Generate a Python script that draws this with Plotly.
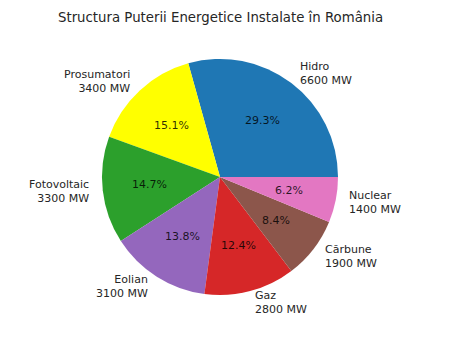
import math
import plotly.graph_objects as go

labels = ["Hidro", "Prosumatori", "Fotovoltaic", "Eolian", "Gaz", "Cărbune", "Nuclear"]
values = [6600, 3400, 3300, 3100, 2800, 1900, 1400]
colors = ["#1f77b4", "#ffff00", "#2ca02c", "#9467bd", "#d62728", "#8c564b", "#e377c2"]
title = "Structura Puterii Energetice Instalate în România"

W, H = 450, 357
cx, cy, r = 220, 177, 118  # pie centre and radius in pixels

total = sum(values)
# plotly's counterclockwise pies end the first slice at `rotation`; start it at 3 o'clock
rotation = 90 - 360 * values[0] / total

fig = go.Figure()
fig.add_trace(go.Pie(
    labels=labels, values=values, sort=False,
    direction="counterclockwise", rotation=rotation,
    marker=dict(colors=colors, line=dict(width=0)),
    textinfo="none", hoverinfo="label+value+percent", showlegend=False,
    domain=dict(x=[(cx - r) / W, (cx + r) / W], y=[1 - (cy + r) / H, 1 - (cy - r) / H]),
))

cum = 0
annotations = []
font = "DejaVu Sans"
for lab, v in zip(labels, values):
    mid = math.radians(360 * (cum + v / 2) / total)
    cum += v
    cx_, cy_ = math.cos(mid), math.sin(mid)
    # outer label
    lx = (cx + 1.1 * r * cx_) / W
    ly = 1 - (cy - 1.1 * r * cy_) / H
    side = "left" if cx_ >= 0 else "right"
    annotations.append(dict(
        x=lx, y=ly, xref="paper", yref="paper", showarrow=False,
        text=f"{lab}<br>{v} MW", xanchor=side, yanchor="middle", align=side,
        font=dict(family=font, size=11, color="#262626")))
    # percentage
    px = (cx + 0.6 * r * cx_) / W
    py = 1 - (cy - 0.6 * r * cy_) / H
    annotations.append(dict(
        x=px, y=py, xref="paper", yref="paper", showarrow=False,
        text=f"{100 * v / total:.1f}%", xanchor="center", yanchor="middle",
        font=dict(family=font, size=11, color="rgba(0,0,0,0.82)")))

annotations.append(dict(
    x=220.5 / W, y=1 - 17 / H, xref="paper", yref="paper", showarrow=False,
    text=title, xanchor="center", yanchor="middle",
    font=dict(family=font, size=13.3, color="#262626")))

fig.update_layout(
    width=W, height=H, margin=dict(l=0, r=0, t=0, b=0),
    paper_bgcolor="white", plot_bgcolor="white",
    annotations=annotations,
)
fig.write_html("out.html")
